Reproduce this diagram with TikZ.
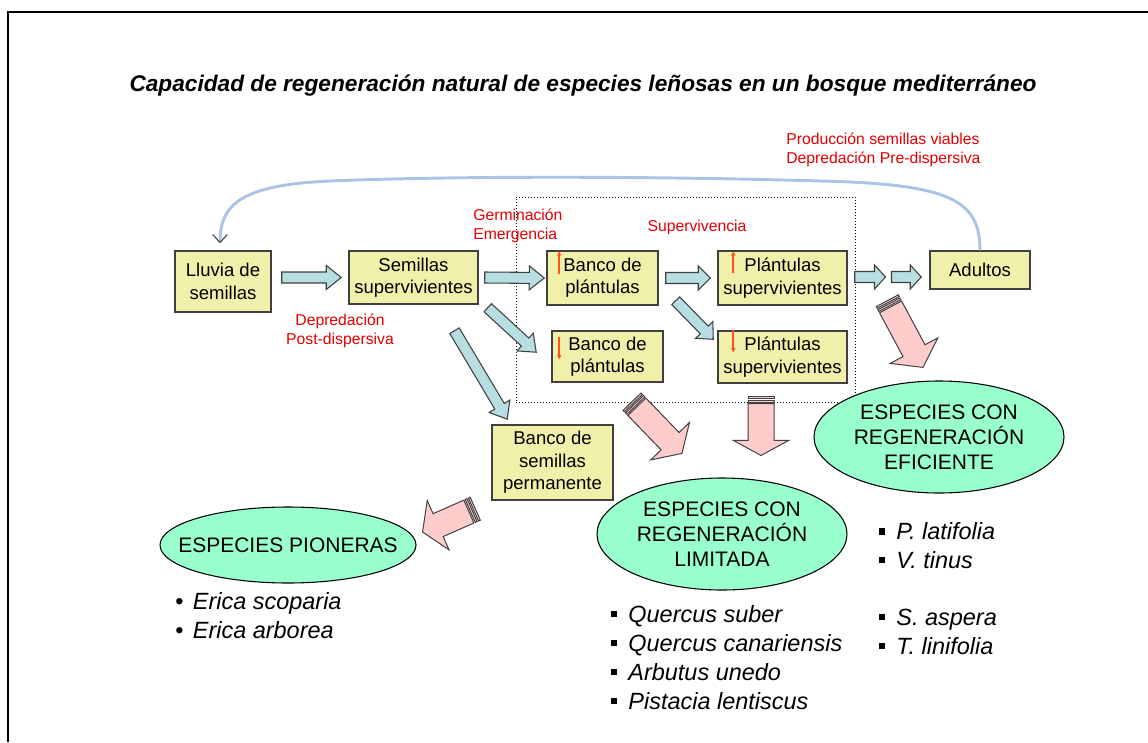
\documentclass[tikz,border=0pt]{standalone}
\usepackage{fontspec}
\setmainfont{Liberation Sans}
\usetikzlibrary{shapes.geometric,calc,arrows.meta}
\definecolor{boxfill}{RGB}{240,240,170}
\definecolor{boxline}{RGB}{64,64,64}
\definecolor{bluefill}{RGB}{183,222,226}
\definecolor{pinkfill}{RGB}{255,204,204}
\definecolor{ellfill}{RGB}{153,255,204}
\definecolor{redtxt}{RGB}{228,0,0}
\definecolor{curveblue}{RGB}{170,196,230}
\definecolor{orangearr}{RGB}{255,80,30}

\tikzset{
 ybox/.style={draw=boxline, line width=1.1pt, fill=boxfill, inner sep=0pt, align=center, font=\fontsize{13.9}{16.8}\selectfont},
 ell/.style={ellipse, draw=black, line width=0.8pt, fill=ellfill, inner sep=0pt, align=center, font=\fontsize{15.75}{18.75}\selectfont},
 redlbl/.style={text=redtxt, font=\fontsize{11.8}{14.25}\selectfont, inner sep=0pt},
 listtxt/.style={font=\fontsize{17.6}{21.6}\selectfont\itshape, align=left, inner sep=0pt, anchor=west},
 bluearr/.style={draw=boxline, line width=0.8pt, fill=bluefill},
 pinkarr/.style={draw=boxline, line width=0.75pt, fill=pinkfill},
 smallarr/.style={draw=orangearr, line width=1.2pt, -{Stealth[length=3.5pt,width=3.5pt]}},
}

\newcommand{\getdir}[2]{%
  \path let \p1=#1, \p2=#2, \n1={atan2(\y2-\y1,\x2-\x1)}, \n2={veclen(\x2-\x1,\y2-\y1)} in
    \pgfextra{\pgfmathsetmacro\BAang{\n1}\global\let\BAang\BAang
              \pgfmathsetmacro\BAlen{\n2/0.75}\global\let\BAlen\BAlen};}

\newcommand{\blockarrow}[6]{%
  \getdir{#2}{#3}%
  \begin{scope}[shift={#2}, rotate=\BAang]
    \draw[#1] (0,-#4) -- ({\BAlen-#6},-#4) -- ({\BAlen-#6},-#5) -- (\BAlen,0) -- ({\BAlen-#6},#5) -- ({\BAlen-#6},#4) -- (0,#4) -- cycle;
  \end{scope}}

\newcommand{\stripedarrow}[6]{%
  \getdir{#2}{#3}%
  \begin{scope}[shift={#2}, rotate=\BAang]
    \draw[#1] (0,-#4) rectangle (2,#4);
    \draw[#1] (3.5,-#4) rectangle (5.5,#4);
    \draw[#1] (7,-#4) -- ({\BAlen-#6},-#4) -- ({\BAlen-#6},-#5) -- (\BAlen,0) -- ({\BAlen-#6},#5) -- ({\BAlen-#6},#4) -- (7,#4) -- cycle;
  \end{scope}}

\newcommand{\sqb}{\raisebox{0.23em}{\rule{0.26em}{0.26em}}\hspace{0.47em}}
\newcommand{\rdb}{\textup{•}\hspace{0.4em}}

\begin{document}
\begin{tikzpicture}[x=0.75pt,y=-0.75pt]
\useasboundingbox (0,0) rectangle (1148,742);
\fill[white] (0,0) rectangle (1148,742);
\draw[line width=1.5pt] (8,742) -- (8,12) -- (1148,12);

\node[font=\fontsize{17}{20}\selectfont\bfseries\itshape, inner sep=0pt] (title) at (583,86) {Capacidad de regeneración natural de especies leñosas en un bosque mediterráneo};

% dotted group
\node[draw, dash pattern=on 0.75pt off 1.5pt, line width=0.75pt, minimum width=254.25pt, minimum height=153.75pt, inner sep=0pt] (grp) at (685.5,299.5) {};

% boxes
\node[ybox, minimum width=72pt, minimum height=45.75pt] (lluvia) at (223,281.5) {Lluvia de\\semillas};
\node[ybox, minimum width=96.75pt, minimum height=39.75pt] (semillas) at (413.5,277.5) {Semillas\\supervivientes};
\node[ybox, minimum width=83.25pt, minimum height=40.5pt] (banco1) at (602.5,278) {Banco de\\plántulas};
\node[ybox, minimum width=96.75pt, minimum height=40.5pt] (plant1) at (782.5,278) {Plántulas\\supervivientes};
\node[ybox, minimum width=83.25pt, minimum height=38.25pt] (banco2) at (607.5,356.5) {Banco de\\plántulas};
\node[ybox, minimum width=96.75pt, minimum height=39pt] (plant2) at (782.5,357) {Plántulas\\supervivientes};
\node[ybox, minimum width=75pt, minimum height=28.5pt] (adultos) at (980,270) {Adultos};
\node[ybox, minimum width=90.75pt, minimum height=56.25pt] (bancoperm) at (552.5,462.5) {Banco de\\semillas\\permanente};

% ellipses
\node[ell, minimum width=192pt, minimum height=57pt] (pioneras) at (288,545) {\makebox[0pt]{ESPECIES PIONERAS}};
\node[ell, minimum width=187.5pt, minimum height=84pt] (limitada) at (722,534) {ESPECIES CON\\REGENERACIÓN\\LIMITADA};
\node[ell, minimum width=187.5pt, minimum height=84pt] (eficiente) at (939,437) {ESPECIES CON\\REGENERACIÓN\\EFICIENTE};

% red labels
\node[redlbl, anchor=west, align=left] (germ) at (473,225.5) {Germinación\\Emergencia};
\node[redlbl, align=center] (depr) at (340,330.5) {Depredación\\Post-dispersiva};
\node[redlbl] (superv) at (697,227) {Supervivencia};
\node[redlbl, anchor=west, align=left] (prod) at (786,149.5) {Producción semillas viables\\Depredación Pre-dispersiva};

% curved return arrow
\draw[curveblue, line width=2.2pt, -{Straight Barb[color=boxline, length=6pt, width=11pt, line width=0.8pt]}]
  (adultos.north) .. controls (980,200) and (950,184) .. (820,181)
  .. controls (650,176) and (450,176) .. (330,181)
  .. controls (240,185) and (220,205) .. ($(lluvia.north)+(-3,-7)$);

% blue block arrows
\coordinate (gap) at ($(plant1.east)!0.5!(adultos.west |- plant1.east)$);
\blockarrow{bluearr}{($(lluvia.east |- semillas.west)+(10,0)$)}{($(semillas.west)+(-7,0)$)}{5.5}{12}{15}
\blockarrow{bluearr}{($(semillas.east)+(6,0)$)}{($(banco1.west)+(-2,0)$)}{5.5}{12}{15}
\blockarrow{bluearr}{($(banco1.east)+(7,0)$)}{($(plant1.west)+(-7,0)$)}{5.5}{12}{12}
\blockarrow{bluearr}{($(plant1.east)+(7,-1)$)}{($(gap)+(-3,-1)$)}{5.5}{12}{11}
\blockarrow{bluearr}{($(gap)+(3,-1)$)}{($(adultos.west |- gap)+(-8,-1)$)}{5.5}{12}{11}
\blockarrow{bluearr}{($(semillas.south east)+(9,3)$)}{($(banco2.north west)+(-15,22)$)}{5.5}{12}{15}
\blockarrow{bluearr}{($(semillas.south)+(41,26)$)}{($(bancoperm.north west)+(16,-5)$)}{5.5}{12}{15}
\blockarrow{bluearr}{($(banco1.south east)+(17,-5)$)}{($(plant2.north west)+(-4,9)$)}{5.5}{12}{13}

% pink striped arrows
\stripedarrow{pinkarr}{($(bancoperm.south west)+(-16,8)$)}{($(pioneras.east)+(6,-13)$)}{12.5}{27}{17}
\stripedarrow{pinkarr}{($(banco2.south)+(24.5,19)$)}{($(limitada.north)+(-40,-24)$)}{12.5}{27}{17}
\stripedarrow{pinkarr}{($(plant2.south)+(-21.5,13)$)}{($(limitada.north)+(39,-22)$)}{13}{27.5}{15}
\stripedarrow{pinkarr}{($(adultos.south west)+(-42,11)$)}{($(eficiente.north)+(-16,-13)$)}{12.5}{27}{19}

% small orange arrows
\draw[smallarr] ($(banco1.north west)+(13,24)$) -- ($(banco1.north west)+(13,1)$);
\draw[smallarr] ($(plant1.north west)+(16,23)$) -- ($(plant1.north west)+(16,1)$);
\draw[smallarr] ($(banco2.north west)+(8,7)$) -- ($(banco2.north west)+(8,29)$);
\draw[smallarr] ($(plant2.north west)+(16,0)$) -- ($(plant2.north west)+(16,22)$);

% lists
\node[listtxt] (erica) at (175,616) {\rdb Erica scoparia\\\rdb Erica arborea};
\node[listtxt] (limlist) at (611,657.5) {\sqb Quercus suber\\\sqb Quercus canariensis\\\sqb Arbutus unedo\\\sqb Pistacia lentiscus};
\node[listtxt] (eflist1) at (879,546) {\sqb P. latifolia\\\sqb V. tinus};
\node[listtxt] (eflist2) at (879,632) {\sqb S. aspera\\\sqb T. linifolia};
\end{tikzpicture}
\end{document}
